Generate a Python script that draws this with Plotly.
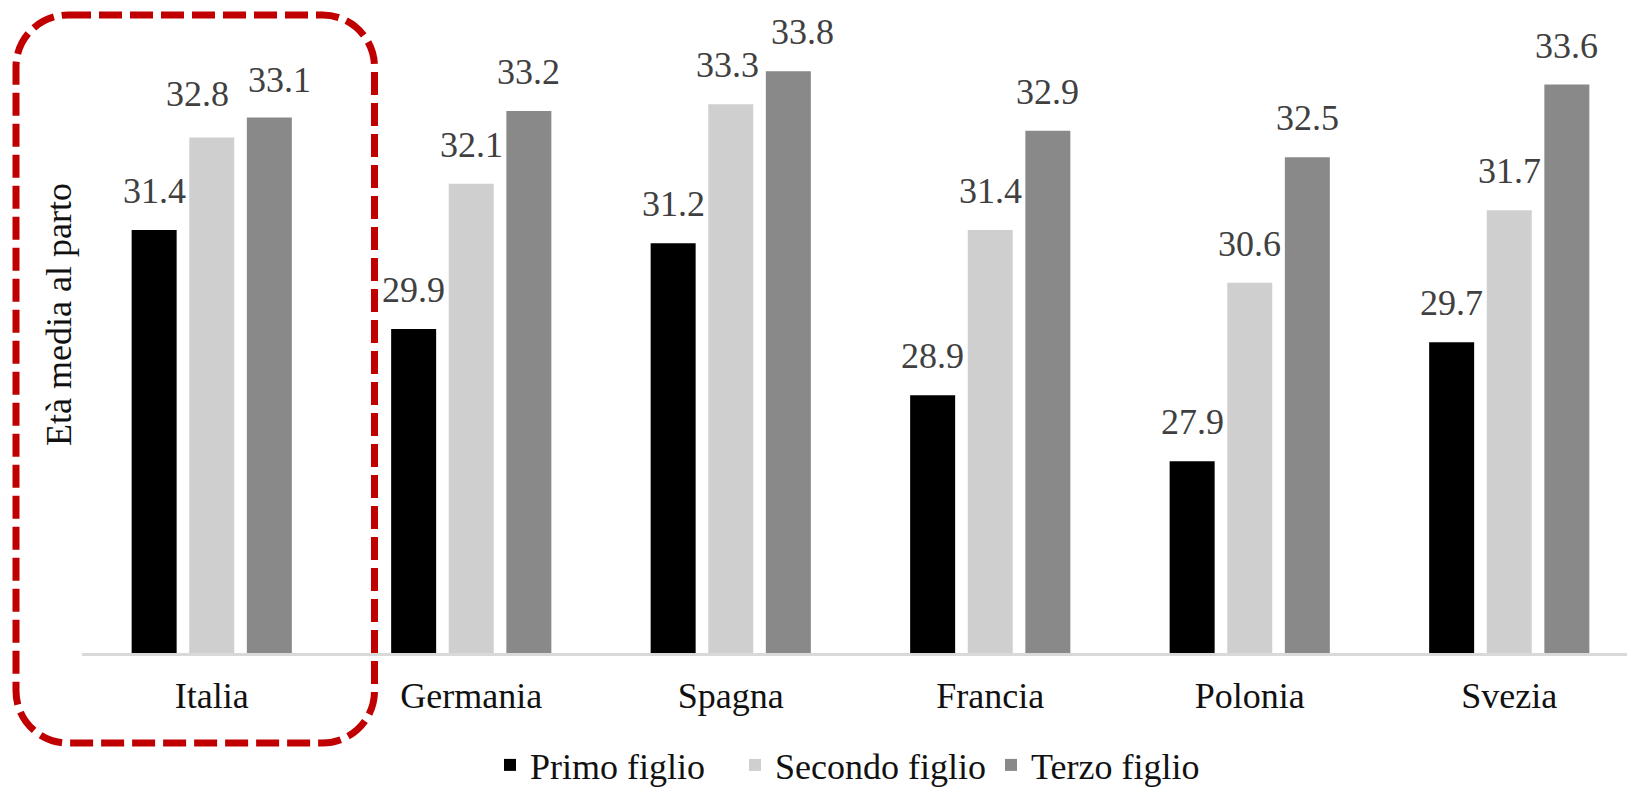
import plotly.graph_objects as go

# ---- data ----
categories = ["Italia", "Germania", "Spagna", "Francia", "Polonia", "Svezia"]
primo_figlio = [31.4, 29.9, 31.2, 28.9, 27.9, 29.7]
secondo_figlio = [32.8, 32.1, 33.3, 31.4, 30.6, 31.7]
terzo_figlio = [33.1, 33.2, 33.8, 32.9, 32.5, 33.6]
series_names = ["Primo figlio", "Secondo figlio", "Terzo figlio"]

# ---- style ----
W, H = 1627, 787
ML, MR, MT, MB = 82, 0, 0, 134
PW, PH = W - ML - MR, H - MT - MB
colors = ["#000000", "#D0CFCF", "#898989"]
FONT = "Liberation Serif, Times New Roman, serif"
FS = 36
px_per_cat = 259.5
slot_px = 57.6
# manual label nudges (dx px, dy px) where labels would overlap
nudges = {(0, 1): (-14, 4), (0, 2): (10, -1), (2, 1): (-3, 0), (2, 2): (14, 0)}
legend_left_px = [490, 735, 991]
legend_mid_px = 765

series_values = [primo_figlio, secondo_figlio, terzo_figlio]
legend_ids = ["legend", "legend2", "legend3"]

fig = go.Figure()
for name, vals, col, lid in zip(series_names, series_values, colors, legend_ids):
    fig.add_trace(go.Bar(x=categories, y=vals, name=name, marker_color=col,
                         marker_line_width=0, legend=lid))

# data labels
for si, vals in enumerate(series_values):
    for ci, (cat, v) in enumerate(zip(categories, vals)):
        dx, dy = nudges.get((ci, si), (0, 0))
        fig.add_annotation(x=cat, y=v, xref="x", yref="y", text=f"{v:.1f}",
                           showarrow=False, xanchor="center", yanchor="bottom",
                           xshift=(si - 1) * slot_px + dx, yshift=17 + dy,
                           font=dict(family=FONT, size=FS, color="#404040"))

# y-axis title
fig.add_annotation(xref="paper", yref="paper", x=(59 - ML) / PW, y=(PH - 315) / PH,
                   text="Età media al parto", textangle=-90, showarrow=False,
                   xanchor="center", yanchor="middle",
                   font=dict(family=FONT, size=FS, color="#111111"))

# dashed rounded box around Italia
def px2paper(x, y):
    return (x - ML) / PW, (PH - (y - MT)) / PH

x0, x1, y0, y1, r = 16, 374.5, 15, 743, 52
k = 0.5523 * r
def P(x, y):
    a, b = px2paper(x, y)
    return f"{a:.5f},{b:.5f}"
path = (f"M {P(x0 + r, y0)} L {P(x1 - r, y0)} "
        f"C {P(x1 - r + k, y0)} {P(x1, y0 + r - k)} {P(x1, y0 + r)} "
        f"L {P(x1, y1 - r)} "
        f"C {P(x1, y1 - r + k)} {P(x1 - r + k, y1)} {P(x1 - r, y1)} "
        f"L {P(x0 + r, y1)} "
        f"C {P(x0 + r - k, y1)} {P(x0, y1 - r + k)} {P(x0, y1 - r)} "
        f"L {P(x0, y0 + r)} "
        f"C {P(x0, y0 + r - k)} {P(x0 + r - k, y0)} {P(x0 + r, y0)} Z")
fig.add_shape(type="path", path=path, xref="paper", yref="paper",
              line=dict(color="#C00000", width=7, dash="23px,8px"),
              fillcolor="rgba(0,0,0,0)", layer="above")

legend_layout = {}
for lid, lx in zip(legend_ids, legend_left_px):
    legend_layout[lid] = dict(
        orientation="h", x=(lx - ML) / PW, xanchor="left",
        y=(PH - (legend_mid_px - MT)) / PH, yanchor="middle",
        font=dict(family=FONT, size=FS, color="#111111"),
        itemwidth=30, bgcolor="rgba(0,0,0,0)")

fig.update_layout(
    width=W, height=H,
    margin=dict(l=ML, r=MR, t=MT, b=MB, autoexpand=False),
    paper_bgcolor="white", plot_bgcolor="white",
    barmode="group", bargap=1 - 3 * slot_px / px_per_cat,
    bargroupgap=1 - 45 / slot_px,
    font=dict(family=FONT, size=FS, color="#111111"),
    xaxis=dict(range=[-0.5, -0.5 + PW / px_per_cat], showline=True,
               linecolor="#D9D9D9", linewidth=3, ticks="", showgrid=False,
               automargin=False,
               tickfont=dict(family=FONT, size=FS, color="#111111"),
               ticklabelstandoff=9),
    yaxis=dict(range=[25, 25 + PH / 66.1], visible=False, showgrid=False,
               automargin=False),
    showlegend=True,
    **legend_layout,
)

fig.write_html("out.html", config={"displayModeBar": False},
               post_script="document.body.style.margin='0px';document.body.style.overflow='hidden';")
